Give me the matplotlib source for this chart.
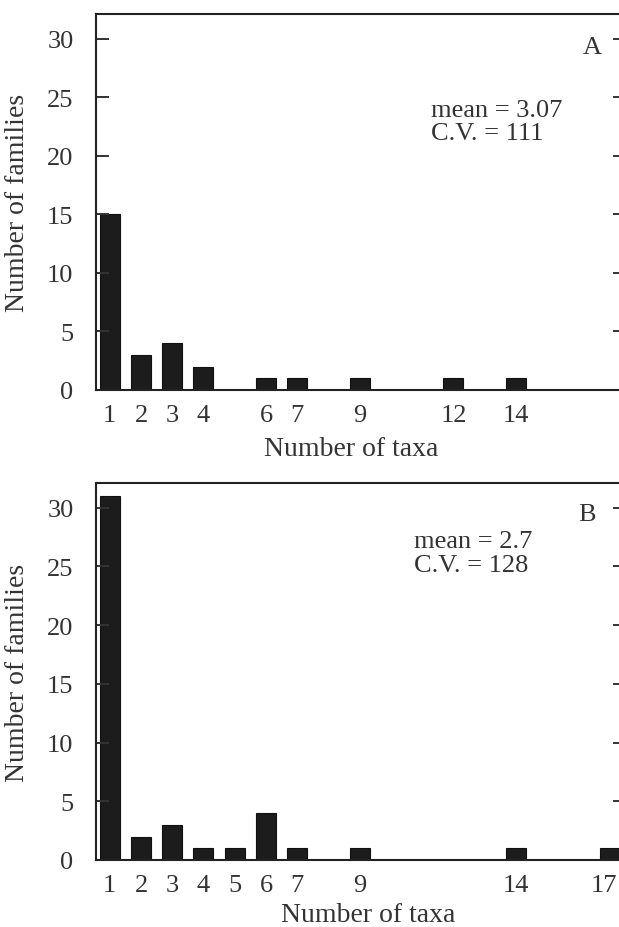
import matplotlib
matplotlib.use("Agg")
import matplotlib.pyplot as plt
import matplotlib.transforms as mtransforms

# Panel A
taxa_a = [1, 2, 3, 4, 6, 7, 9, 12, 14]
families_a = [15, 3, 4, 2, 1, 1, 1, 1, 1]
# Panel B
taxa_b = [1, 2, 3, 4, 5, 6, 7, 9, 14, 17]
families_b = [31, 2, 3, 1, 1, 4, 1, 1, 1, 1]

yticks = [0, 5, 10, 15, 20, 25, 30]

plt.rcParams["font.family"] = ["Liberation Serif", "DejaVu Serif"]

fig = plt.figure(figsize=(6.19, 9.28), dpi=100)

W, H = 619.0, 928.0
left_px, right_px = 95.7, 625.0
panels = [
    (taxa_a, families_a, "A", "mean = 3.07\nC.V. = 111", 15, 391, (0.939, 0.912), (0.633, 0.714), (0.483, -0.122)),
    (taxa_b, families_b, "B", "mean = 2.7\nC.V. = 128", 484, 861, (0.928, 0.918), (0.601, 0.814), (0.514, -0.112)),
]

txt = "#333333"
for taxa, fams, letter, stats, top_px, bot_px, letter_pos, stats_pos, xlab_pos in panels:
    ax = fig.add_axes([left_px / W, 1 - bot_px / H,
                       (right_px - left_px) / W, (bot_px - top_px) / H])
    ax.bar(taxa, fams, width=0.64, color="#1c1c1c", edgecolor="#111111", linewidth=0.8)
    ax.set_xlim(0.55, 17.49)
    ax.set_ylim(0, 32.1)
    ax.set_xticks(taxa)
    ax.set_xticklabels([str(t) for t in taxa])
    ax.set_yticks(yticks)
    ax.tick_params(axis="x", length=0, pad=10, labelsize=19, colors=txt)
    ax.tick_params(axis="y", direction="in", length=9, width=1.4, pad=16,
                   right=True, labelsize=19, colors=txt)
    for s in ax.spines.values():
        s.set_linewidth(1.5)
        s.set_color("#222222")
    ax.set_ylabel("Number of families", fontsize=20, color=txt)
    ax.yaxis.set_label_coords(-0.124, 0.5)
    ax.set_xlabel("Number of taxa", fontsize=20, color=txt, va="top")
    ax.xaxis.set_label_coords(xlab_pos[0], xlab_pos[1])
    ax.text(letter_pos[0], letter_pos[1], letter, transform=ax.transAxes,
            ha="center", va="center", fontsize=19, color=txt)
    ax.text(stats_pos[0], stats_pos[1], stats, transform=ax.transAxes,
            ha="left", va="center", fontsize=19, color=txt, linespacing=1.08)

    # the last label sits at the cropped right edge; nudge it inside
    if taxa[-1] == 17:
        lab = ax.get_xticklabels()[-1]
        lab.set_transform(lab.get_transform() +
                          mtransforms.ScaledTranslation(-4 / 72, 0, fig.dpi_scale_trans))

fig.savefig("out.png", dpi=100)
